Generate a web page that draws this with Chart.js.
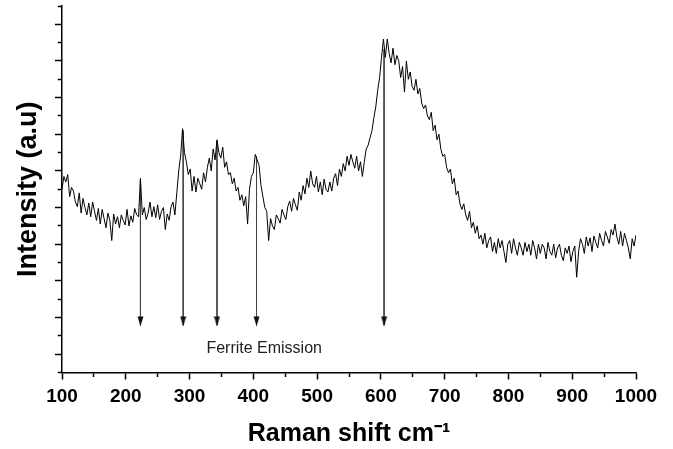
<!DOCTYPE html>
<html>
<head>
<meta charset="utf-8">
<script src="https://cdn.jsdelivr.net/npm/chart.js@4.4.1/dist/chart.umd.min.js"></script>
<style>
html, body { margin: 0; padding: 0; background: #fff; }
#wrap { width: 673px; height: 449px; }
</style>
</head>
<body>
<div id="wrap"><canvas id="chart"></canvas></div>
<script>
// Raman spectrum, every 3 cm-1 starting at 100
const shiftStart = 100;
const shiftStep = 3;
const intensity = [
    1000, 1070, 1040, 1080, 960, 1010, 990, 930, 905, 980,
    870, 950, 900, 860, 925, 850, 930, 880, 830, 895,
    810, 890, 840, 790, 870, 830, 720, 865, 810, 850,
    790, 860, 830, 805, 890, 800, 855, 820, 895, 860,
    850, 1060, 860, 900, 835, 870, 930, 850, 905, 845,
    915, 835, 880, 900, 780, 865, 830, 905, 930, 860,
    980, 1100, 1180, 1330, 1200, 1150, 1080, 1110, 990, 1070,
    985, 1060, 1030, 1000, 1090, 1040, 1120, 1170, 1100, 1220,
    1160, 1270, 1200, 1170, 1230, 1120, 1150, 1080, 1090, 1030,
    1060, 990, 1010, 940, 970, 910, 960, 810, 1000, 1070,
    1090, 1190, 1160, 1130, 1020, 960, 900, 880, 720, 840,
    800, 780, 860, 840, 815, 890, 860, 835, 905, 935,
    880, 950, 915, 885, 985, 940, 1020, 975, 1060, 1010,
    1100, 1030, 1010, 1070, 985, 1040, 970, 1055, 1000, 985,
    1040, 990, 1060, 1085, 1020, 1110, 1070, 1140, 1100, 1180,
    1130, 1190, 1150, 1115, 1180, 1100, 1150, 1070, 1150, 1220,
    1240, 1280, 1320, 1390, 1450, 1540, 1610, 1720, 1820, 1720,
    1820, 1740, 1690, 1770, 1680, 1730, 1700, 1610, 1670, 1530,
    1700, 1600, 1640, 1560, 1540, 1600, 1520, 1550, 1470, 1440,
    1460, 1400, 1380, 1420, 1320, 1350, 1270, 1300, 1220, 1180,
    1190, 1120, 1090, 1110, 1030, 1060, 970, 990, 920, 890,
    920, 860, 830, 880, 790, 820, 760, 800, 730, 750,
    700, 760, 680, 720, 740, 660, 710, 650, 730, 680,
    720, 660, 600, 700, 720, 650, 730, 680, 640, 710,
    680, 640, 710, 660, 700, 640, 720, 680, 620, 700,
    650, 700, 680, 620, 710, 660, 640, 700, 625, 680,
    700, 640, 610, 680, 650, 690, 605, 660, 690, 520,
    660, 730, 700, 650, 740, 690, 735, 660, 745, 710,
    680, 760, 720, 690, 770, 740, 705, 780, 750, 810,
    740, 700, 770, 690, 760, 720, 680, 620, 730, 690,
    750
];
const ramanShift = intensity.map((v, i) => shiftStart + i * shiftStep);

// peak markers
const arrowShift = [223, 290, 343, 405, 605];
const arrowTop = [1050, 1320, 1260, 1180, 1764];
const arrowTip = 257;

const xLabelValues = [100, 200, 300, 400, 500, 600, 700, 800, 900, 1000];
const noteText = "Ferrite Emission";
const noteAt = { x: 417, y: 129 };

const FONT = "Arial, 'Liberation Sans', sans-serif";
Chart.defaults.font.family = FONT;
Chart.defaults.color = "#000";

function arrowHead() {
    const c = document.createElement("canvas");
    c.width = 7;
    c.height = 20;
    const g = c.getContext("2d");
    g.fillStyle = "#111";
    g.beginPath();
    g.moveTo(0.5, 1);
    g.lineTo(6.5, 1);
    g.lineTo(3.5, 10.5);
    g.closePath();
    g.fill();
    return c;
}
const head = arrowHead();

const notePlugin = {
    id: "note",
    afterDatasetsDraw(chart) {
        const { ctx, scales } = chart;
        ctx.save();
        ctx.font = "16px " + FONT;
        ctx.fillStyle = "#222";
        ctx.textAlign = "center";
        ctx.textBaseline = "middle";
        ctx.fillText(noteText, scales.x.getPixelForValue(noteAt.x), scales.y.getPixelForValue(noteAt.y));
        ctx.restore();
    }
};

const datasets = [{
    data: ramanShift.map((x, i) => ({ x: x, y: intensity[i] })),
    borderColor: "#000",
    borderWidth: 1,
    pointRadius: 0,
    tension: 0
}];
arrowShift.forEach((x, i) => {
    datasets.push({
        data: [{ x: x, y: arrowTop[i] }, { x: x, y: arrowTip }],
        borderColor: "#444",
        borderWidth: 1,
        pointRadius: [0, 4],
        pointHoverRadius: 0,
        pointStyle: head
    });
});

new Chart(document.getElementById("chart"), {
    type: "line",
    data: { datasets: datasets },
    plugins: [notePlugin],
    options: {
        responsive: true,
        maintainAspectRatio: false,
        animation: false,
        layout: { padding: { top: 6, right: 37, bottom: 0, left: 0 } },
        plugins: { legend: { display: false }, tooltip: { enabled: false } },
        scales: {
            x: {
                type: "linear",
                min: 100,
                max: 1000,
                border: { color: "#000", width: 1.5 },
                grid: {
                    drawOnChartArea: false,
                    tickLength: 7,
                    tickWidth: 1.5,
                    tickColor: "#000",
                    tickBorderDash: (ctx) => (ctx.tick && ctx.tick.value % 100 !== 0) ? [3.5, 20] : []
                },
                ticks: {
                    stepSize: 50,
                    autoSkip: false,
                    maxRotation: 0,
                    padding: 6,
                    font: { size: 19, weight: "bold" },
                    callback: (v) => xLabelValues.includes(v) ? String(v) : ""
                },
                title: {
                    display: true,
                    text: "Raman shift cm\u207B\u00B9",
                    font: { size: 25, weight: "bold" },
                    padding: { top: 0, bottom: 0 }
                },
                afterFit: (s) => { s.height = 76.5; }
            },
            y: {
                min: 0,
                max: 2000,
                border: { color: "#000", width: 1.5 },
                grid: {
                    drawOnChartArea: false,
                    tickLength: 7,
                    tickWidth: 1.5,
                    tickColor: "#000",
                    tickBorderDash: (ctx) => (ctx.tick && (ctx.tick.value / 100) % 2 === 0) ? [0, 2.75, 20] : []
                },
                ticks: { stepSize: 100, display: false },
                title: {
                    display: true,
                    text: "Intensity (a.u)",
                    font: { size: 27, weight: "bold" },
                    padding: { top: 12, bottom: 0 }
                },
                afterFit: (s) => { s.width = 62; }
            }
        }
    }
});
</script>
</body>
</html>
